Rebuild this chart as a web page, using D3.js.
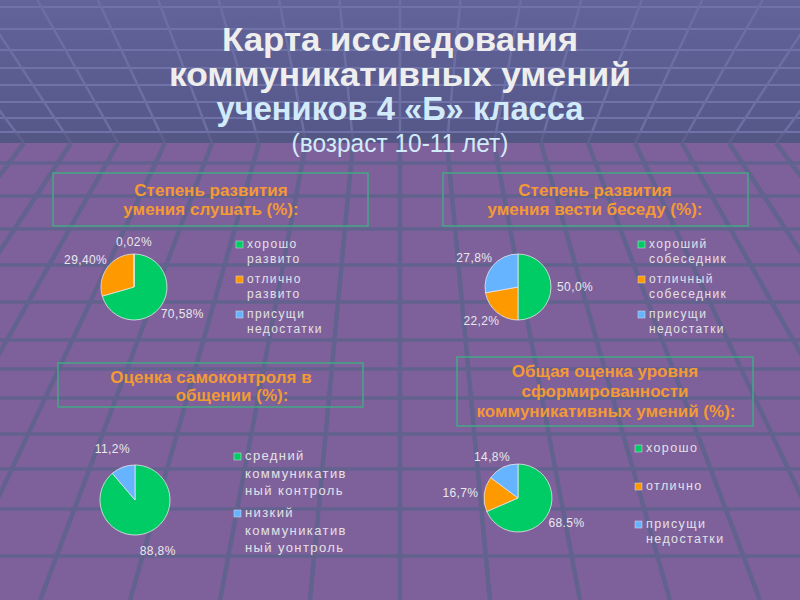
<!DOCTYPE html>
<html lang="ru">
<head>
<meta charset="UTF-8">
<script src="https://cdnjs.cloudflare.com/ajax/libs/d3/7.8.5/d3.min.js"></script>
<style>
  body { margin: 0; background: #7e609b; }
  svg { display: block; }
  .title { font-family: "Liberation Sans", Arial, sans-serif; font-weight: bold; }
  .box-text { font-family: "Liberation Sans", Arial, sans-serif; font-weight: bold; fill: #f39a34; font-size: 17px; }
  .legend text { font-family: "Liberation Sans", Arial, sans-serif; fill: #e2e2e6; }
  .pct { font-family: "Liberation Sans", Arial, sans-serif; fill: #e8e8ec; font-size: 12px; letter-spacing: 0.4px; }
</style>
</head>
<body>
<script>
// slice colours: green, orange, blue
const sliceColors = ['#00cc66', '#ff9900', '#66b3ff'];

// chart 1: умения слушать
const listenValues = [70.58, 29.40, 0.02];
const listenLabels = ['70,58%', '29,40%', '0,02%'];
const listenLegend = [['хорошо', 'развито'], ['отлично', 'развито'], ['присущи', 'недостатки']];

// chart 2: умения вести беседу
const talkValues = [50.0, 22.2, 27.8];
const talkLabels = ['50,0%', '22,2%', '27,8%'];
const talkLegend = [['хороший', 'собеседник'], ['отличный', 'собеседник'], ['присущи', 'недостатки']];

// chart 3: самоконтроль
const controlValues = [88.8, 11.2];
const controlLabels = ['88,8%', '11,2%'];
const controlLegend = [['средний', 'коммуникатив', 'ный контроль'], ['низкий', 'коммуникатив', 'ный уонтроль']];
const controlColors = ['#00cc66', '#66b3ff'];

// chart 4: общая оценка
const totalValues = [68.5, 16.7, 14.8];
const totalLabels = ['68.5%', '16,7%', '14,8%'];
const totalLegend = [['хорошо'], ['отлично'], ['присущи', 'недостатки']];

const width = 800, height = 600;
const horizon = 143;

const svg = d3.select('body').append('svg')
    .attr('width', width)
    .attr('height', height);

// ---- background: ceiling + floor grid
const defs = svg.append('defs');
const grad = defs.append('linearGradient').attr('id', 'ceil').attr('x1', 0).attr('x2', 0).attr('y1', 0).attr('y2', 1);
grad.append('stop').attr('offset', '0%').attr('stop-color', '#62649a');
grad.append('stop').attr('offset', '100%').attr('stop-color', '#555789');

const bg = svg.append('g');
bg.append('rect').attr('width', width).attr('height', horizon).attr('fill', 'url(#ceil)');
bg.append('rect').attr('y', horizon).attr('width', width).attr('height', height - horizon).attr('fill', '#7e609b');

const ceilRows = [7, 29, 50, 68, 85, 102, 118, 132];
const floorRows = [163, 196, 229, 265, 302, 340, 369, 398, 434, 469, 509, 556];
const D = 500;
const spokes = d3.range(-10, 11).map(k => 400 + k * 47);

bg.selectAll('.crow').data(ceilRows).enter().append('line')
    .attr('x1', 0).attr('x2', width)
    .attr('y1', d => d).attr('y2', d => d)
    .attr('stroke', '#7073a8').attr('stroke-width', 2);
bg.selectAll('.cspoke').data(spokes).enter().append('line')
    .attr('x1', d => d).attr('y1', horizon)
    .attr('x2', d => 400 + (d - 400) * (1 + horizon / D)).attr('y2', 0)
    .attr('stroke', '#6c6fa4').attr('stroke-width', 2.5);
bg.append('rect').attr('y', horizon - 10).attr('width', width).attr('height', 10).attr('fill', '#53557f').attr('opacity', 0.6);

bg.selectAll('.frow').data(floorRows).enter().append('line')
    .attr('x1', 0).attr('x2', width)
    .attr('y1', d => d).attr('y2', d => d)
    .attr('stroke', '#62628f').attr('stroke-width', 3.5);
bg.selectAll('.fspoke').data(spokes).enter().append('line')
    .attr('x1', d => d).attr('y1', horizon)
    .attr('x2', d => 400 + (d - 400) * (1 + (height - horizon) / D)).attr('y2', height)
    .attr('stroke', '#62628f').attr('stroke-width', 4.5);

// ---- title (squeezed to the reference widths, it is a narrow face there)
const title = svg.append('g').attr('class', 'title').attr('text-anchor', 'middle');
const titleLines = [
    { t: 'Карта исследования', y: 51, fs: 34, w: 356, c: '#eeeeee', bold: true },
    { t: 'коммуникативных умений', y: 86, fs: 34, w: 462, c: '#eeeeee', bold: true },
    { t: 'учеников 4 «Б» класса', y: 120, fs: 34, w: 367, c: '#d2ebfb', bold: true },
    { t: '(возраст 10-11 лет)', y: 152, fs: 25, w: 217, c: '#d2ebfb', bold: false }
];
title.selectAll('text').data(titleLines).enter().append('text')
    .attr('x', 400).attr('y', d => d.y)
    .attr('font-size', d => d.fs)
    .attr('font-weight', d => d.bold ? 'bold' : 'normal')
    .attr('fill', d => d.c)
    .attr('textLength', d => d.w)
    .attr('lengthAdjust', 'spacingAndGlyphs')
    .text(d => d.t);

// ---- panels
const panels = [
    { box: [53, 173, 315, 53], lines: [['Степень развития', 211, 196], ['умения слушать (%):', 211, 215]],
      values: listenValues, labels: listenLabels, legend: listenLegend, colors: sliceColors,
      cx: 134, cy: 287, r: 33, gap: 6,
      lx: 236, ly: 248, lh: 14.5, egap: 6, fs: 12 },
    { box: [443, 173, 305, 53], lines: [['Степень развития', 595, 196], ['умения вести беседу (%):', 595, 215]],
      values: talkValues, labels: talkLabels, legend: talkLegend, colors: sliceColors,
      cx: 518, cy: 287, r: 33, gap: 6,
      lx: 638, ly: 248, lh: 14.5, egap: 6, fs: 12 },
    { box: [58, 363, 305, 44], lines: [['Оценка самоконтроля в', 211, 383], ['общении (%):', 232, 401]],
      values: controlValues, labels: controlLabels, legend: controlLegend, colors: controlColors,
      cx: 135, cy: 500, r: 35, gap: 13,
      lx: 234, ly: 460, lh: 17.5, egap: 4.5, fs: 13 },
    { box: [457, 357, 296, 69], lines: [['Общая оценка уровня', 605, 377], ['сформированности', 605, 397], ['коммуникативных умений (%):', 606, 417]],
      values: totalValues, labels: totalLabels, legend: totalLegend, colors: sliceColors,
      cx: 518, cy: 498, r: 34, gap: 6,
      lx: 635, ly: 452, lh: 15, egap: 23, fs: 12.5 }
];

const pie = d3.pie().sort(null).value(d => d);

panels.forEach(p => {
    const g = svg.append('g');
    g.append('rect')
        .attr('x', p.box[0]).attr('y', p.box[1])
        .attr('width', p.box[2]).attr('height', p.box[3])
        .attr('fill', 'none').attr('stroke', '#43a884').attr('stroke-width', 1.5);
    g.selectAll('.box-text').data(p.lines).enter().append('text')
        .attr('class', 'box-text')
        .attr('text-anchor', 'middle')
        .attr('x', d => d[1]).attr('y', d => d[2])
        .text(d => d[0]);

    const arcs = pie(p.values);
    const arc = d3.arc().innerRadius(0).outerRadius(p.r);
    const pg = g.append('g').attr('transform', `translate(${p.cx},${p.cy})`);
    pg.selectAll('path').data(arcs).enter().append('path')
        .attr('d', arc)
        .attr('fill', (d, i) => p.colors[i])
        .attr('stroke', '#e6e6e6').attr('stroke-width', 0.8);

    // outside labels: nearest corner of the label sits just outside the rim
    pg.selectAll('text').data(arcs).enter().append('text')
        .attr('class', 'pct')
        .text((d, i) => p.labels[i])
        .each(function (d) {
            const a = (d.startAngle + d.endAngle) / 2;
            const s = Math.sin(a), c = Math.cos(a);
            const rr = p.r + p.gap;
            const w = this.getComputedTextLength();
            const x = rr * s + (s - 1) / 2 * w;
            const y = -rr * c - c * 6 + 4;
            d3.select(this).attr('x', x).attr('y', y);
        });

    // legend
    const lg = g.append('g').attr('class', 'legend');
    let y = p.ly;
    p.legend.forEach((entry, i) => {
        lg.append('rect')
            .attr('x', p.lx).attr('y', y - 7)
            .attr('width', 7).attr('height', 7)
            .attr('fill', p.colors[i]).attr('stroke', '#dddddd').attr('stroke-width', 0.5);
        entry.forEach((line, j) => {
            lg.append('text')
                .attr('x', p.lx + 11).attr('y', y + j * p.lh)
                .attr('font-size', p.fs).attr('letter-spacing', 1.4)
                .text(line);
        });
        y += entry.length * p.lh + p.egap;
    });
});
</script>
</body>
</html>
